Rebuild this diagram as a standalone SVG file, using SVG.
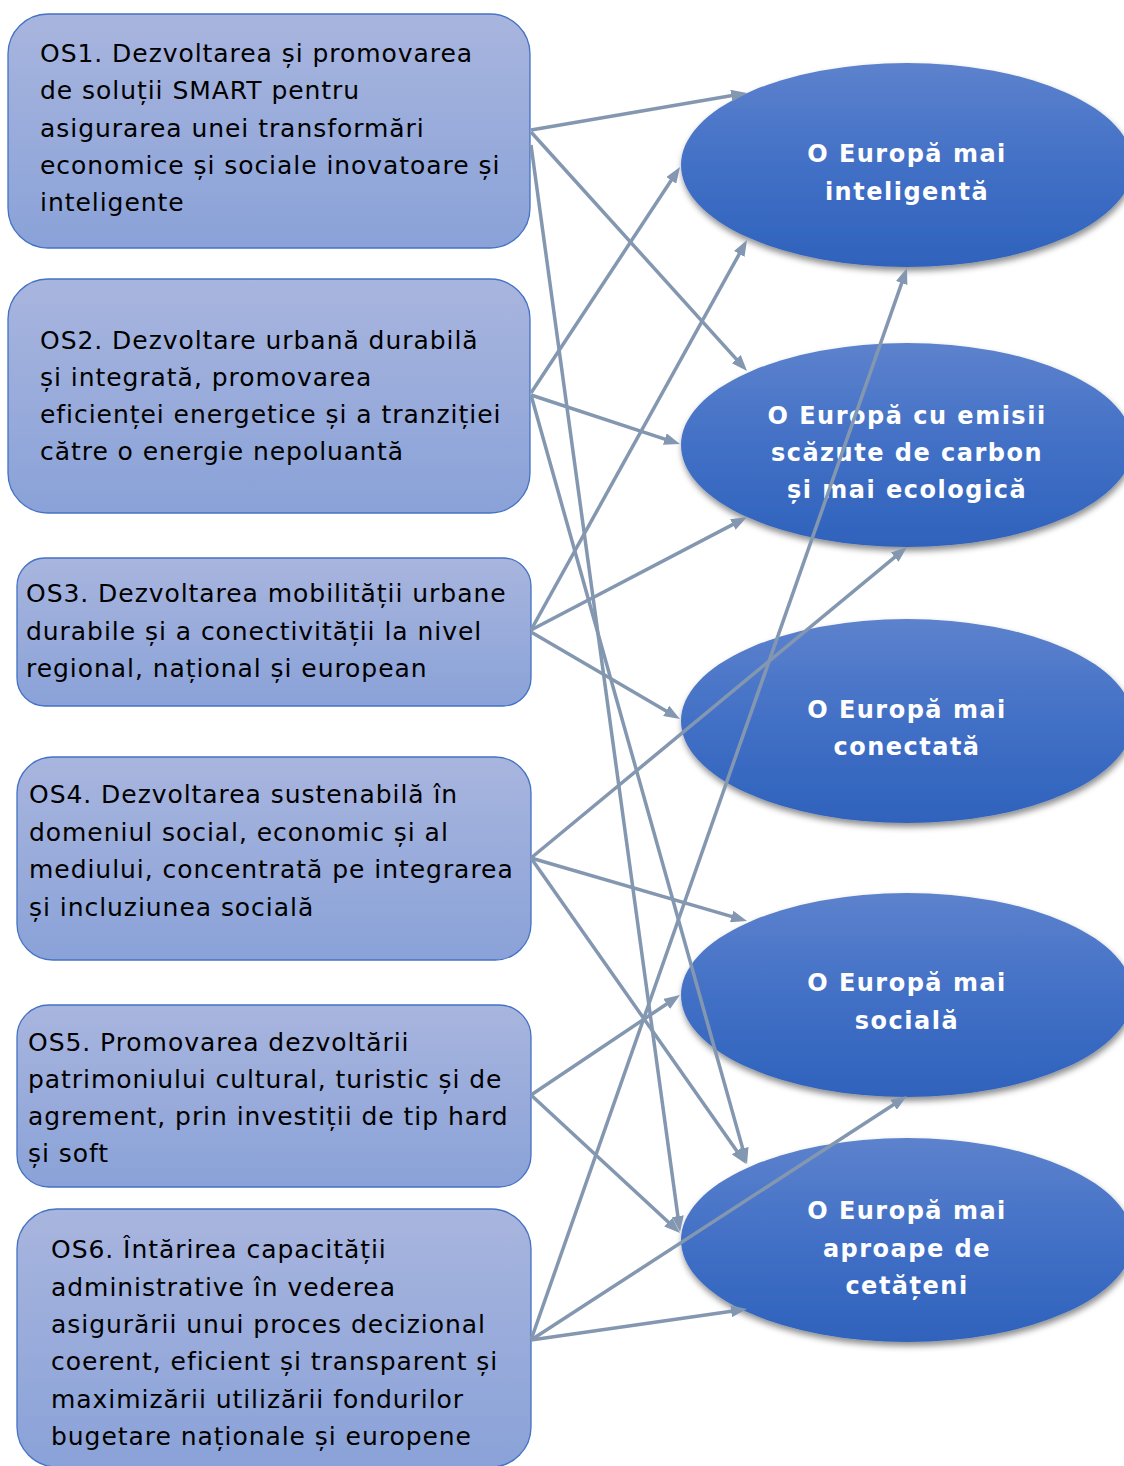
<svg xmlns="http://www.w3.org/2000/svg" width="1124" height="1466" viewBox="0 0 1124 1466">
<defs>
<linearGradient id="gBox" x1="0" y1="0" x2="0" y2="1">
<stop offset="0" stop-color="#a8b5de"/>
<stop offset="1" stop-color="#8aa2d8"/>
</linearGradient>
<linearGradient id="gEll" x1="0" y1="0" x2="0" y2="1">
<stop offset="0" stop-color="#5d82cd"/>
<stop offset="0.5" stop-color="#4270c6"/>
<stop offset="1" stop-color="#2f62bc"/>
</linearGradient>
<filter id="sh" x="-10%" y="-10%" width="120%" height="130%">
<feDropShadow dx="1" dy="4" stdDeviation="3" flood-color="#000" flood-opacity="0.45"/>
</filter>
<marker id="ah" viewBox="0 0 16 12" markerWidth="16" markerHeight="12" markerUnits="userSpaceOnUse" refX="4" refY="6" orient="auto">
<path d="M0,0 L16,6 L0,12 z" fill="#8497b0"/>
</marker>
<style>
.box{fill:url(#gBox);stroke:#4472c4;stroke-width:1.3}
.ell{fill:url(#gEll);filter:url(#sh)}
.bt{font-family:"DejaVu Sans","Verdana",sans-serif;font-size:25px;letter-spacing:0.95px;fill:#000}
.et{font-family:"DejaVu Sans","Verdana",sans-serif;font-size:24px;font-weight:bold;letter-spacing:1.5px;fill:#fff;text-anchor:middle}
.cn line{stroke:#8497b0;stroke-width:3.5;marker-end:url(#ah)}
</style>
</defs>
<rect width="1124" height="1466" fill="#fff"/>

<g id="os1"><rect class="box" x="8" y="14" width="522" height="234" rx="40"/>
<text class="bt"><tspan x="40" y="62">OS1. Dezvoltarea și promovarea</tspan><tspan x="40" y="99">de soluții SMART pentru</tspan><tspan x="40" y="137">asigurarea unei transformări</tspan><tspan x="40" y="174">economice și sociale inovatoare și</tspan><tspan x="40" y="211">inteligente</tspan></text></g>

<g id="os2"><rect class="box" x="8" y="279" width="522" height="234" rx="40"/>
<text class="bt"><tspan x="40" y="349">OS2. Dezvoltare urbană durabilă</tspan><tspan x="40" y="386">și integrată, promovarea</tspan><tspan x="40" y="423">eficienței energetice și a tranziției</tspan><tspan x="40" y="460">către o energie nepoluantă</tspan></text></g>

<g id="os3"><rect class="box" x="17" y="558" width="514" height="148" rx="28"/>
<text class="bt"><tspan x="26" y="602">OS3. Dezvoltarea mobilității urbane</tspan><tspan x="26" y="640">durabile și a conectivității la nivel</tspan><tspan x="26" y="677">regional, național și european</tspan></text></g>

<g id="os4"><rect class="box" x="17" y="757" width="514" height="203" rx="36"/>
<text class="bt"><tspan x="29" y="803">OS4. Dezvoltarea sustenabilă în</tspan><tspan x="29" y="841">domeniul social, economic și al</tspan><tspan x="29" y="878">mediului, concentrată pe integrarea</tspan><tspan x="29" y="916">și incluziunea socială</tspan></text></g>

<g id="os5"><rect class="box" x="17" y="1005" width="514" height="182" rx="32"/>
<text class="bt"><tspan x="28" y="1051">OS5. Promovarea dezvoltării</tspan><tspan x="28" y="1088">patrimoniului cultural, turistic și de</tspan><tspan x="28" y="1125">agrement, prin investiții de tip hard</tspan><tspan x="28" y="1162">și soft</tspan></text></g>

<g id="os6"><rect class="box" x="17" y="1209" width="514" height="258" rx="40"/>
<text class="bt"><tspan x="51" y="1258">OS6. Întărirea capacității</tspan><tspan x="51" y="1296">administrative în vederea</tspan><tspan x="51" y="1333">asigurării unui proces decizional</tspan><tspan x="51" y="1370">coerent, eficient și transparent și</tspan><tspan x="51" y="1408">maximizării utilizării fondurilor</tspan><tspan x="51" y="1445">bugetare naționale și europene</tspan></text></g>

<g id="e1"><ellipse class="ell" cx="907" cy="165" rx="226" ry="102"/>
<text class="et"><tspan x="907" y="162">O Europă mai</tspan><tspan x="907" y="200">inteligentă</tspan></text></g>

<g id="e2"><ellipse class="ell" cx="907" cy="445" rx="226" ry="102"/>
<text class="et"><tspan x="907" y="424">O Europă cu emisii</tspan><tspan x="907" y="461">scăzute de carbon</tspan><tspan x="907" y="498">și mai ecologică</tspan></text></g>

<g id="e3"><ellipse class="ell" cx="907" cy="721" rx="226" ry="102"/>
<text class="et"><tspan x="907" y="718">O Europă mai</tspan><tspan x="907" y="755">conectată</tspan></text></g>

<g id="e4"><ellipse class="ell" cx="907" cy="995" rx="226" ry="102"/>
<text class="et"><tspan x="907" y="991">O Europă mai</tspan><tspan x="907" y="1029">socială</tspan></text></g>

<g id="e5"><ellipse class="ell" cx="907" cy="1240" rx="226" ry="102"/>
<text class="et"><tspan x="907" y="1219">O Europă mai</tspan><tspan x="907" y="1257">aproape de</tspan><tspan x="907" y="1294">cetățeni</tspan></text></g>

<g id="connectors" class="cn">
<line x1="531" y1="130" x2="735.2" y2="95.0"/>
<line x1="531" y1="132" x2="739.0" y2="362.1"/>
<line x1="531" y1="145" x2="678.4" y2="1220.1"/>
<line x1="531" y1="393" x2="673.4" y2="177.0"/>
<line x1="531" y1="395" x2="668.6" y2="440.3"/>
<line x1="531" y1="395" x2="743.8" y2="1152.4"/>
<line x1="531" y1="630" x2="741.2" y2="250.5"/>
<line x1="531" y1="630" x2="736.4" y2="522.6"/>
<line x1="531" y1="632" x2="669.6" y2="712.9"/>
<line x1="531" y1="858" x2="897.8" y2="554.6"/>
<line x1="531" y1="858" x2="735.5" y2="917.6"/>
<line x1="531" y1="858" x2="739.1" y2="1154.2"/>
<line x1="531" y1="1095" x2="670.0" y2="1001.7"/>
<line x1="531" y1="1095" x2="671.2" y2="1224.8"/>
<line x1="531" y1="1340" x2="903.0" y2="279.3"/>
<line x1="531" y1="1340" x2="896.9" y2="1102.5"/>
<line x1="531" y1="1340" x2="735.1" y2="1310.7"/>
</g>
</svg>
